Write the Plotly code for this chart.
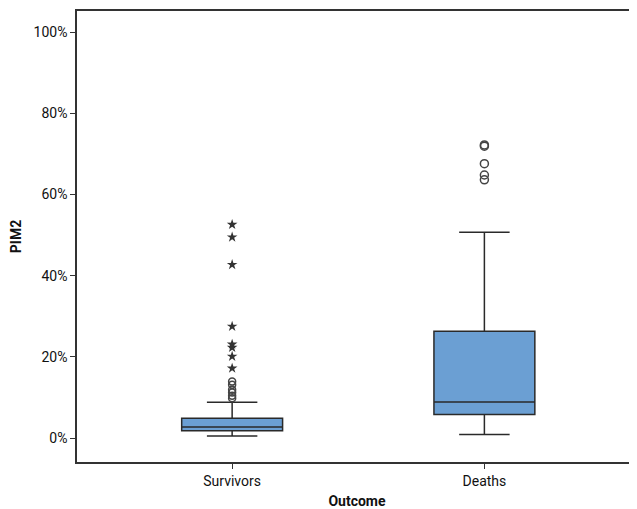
import plotly.graph_objects as go

categories = ["Survivors", "Deaths"]
q1 = [1.8, 5.8]
median = [2.7, 8.9]
q3 = [4.9, 26.3]
lower_whisker = [0.5, 0.9]
upper_whisker = [8.8, 50.7]

# outliers (circles) and extreme values (stars), in %
surv_circles = [9.8, 10.4, 11.2, 11.9, 13.1, 13.9]
surv_stars = [17.2, 20.1, 22.3, 23.1, 27.5, 42.7, 49.5, 52.6]
death_circles = [63.6, 64.8, 67.6, 71.9, 72.2]

tick_vals = [0, 20, 40, 60, 80, 100]
tick_text = ["0%", "20%", "40%", "60%", "80%", "100%"]

FONT = "Roboto, sans-serif"
fill = "#6b9fd3"

fig = go.Figure()
fig.add_trace(go.Box(
    x=categories, q1=q1, median=median, q3=q3,
    lowerfence=lower_whisker, upperfence=upper_whisker,
    fillcolor=fill, line=dict(color="#2a2a2a", width=1.5),
    width=0.4, whiskerwidth=0.5, boxpoints=False, showlegend=False,
))
fig.add_trace(go.Scatter(
    x=[categories[0]] * len(surv_circles), y=surv_circles, mode="markers",
    marker=dict(symbol="circle-open", size=7, color="#444", line=dict(width=1.5)),
    showlegend=False,
))
fig.add_trace(go.Scatter(
    x=[categories[0]] * len(surv_stars), y=surv_stars, mode="markers",
    marker=dict(symbol="star", size=8, color="#333"),
    showlegend=False,
))
fig.add_trace(go.Scatter(
    x=[categories[1]] * len(death_circles), y=death_circles, mode="markers",
    marker=dict(symbol="circle-open", size=8, color="#444", line=dict(width=1.5)),
    showlegend=False,
))

# The page body adds an 8px margin, so the figure is sized/margined to compensate.
fig.update_layout(
    width=629, height=501,
    margin=dict(l=69, r=0, t=3, b=47, autoexpand=False),
    plot_bgcolor="white", paper_bgcolor="white",
    font=dict(family=FONT, size=14, color="#111"),
    xaxis=dict(
        type="category", range=[-0.615, 1.605],
        showline=True, linecolor="#333", linewidth=1.5, mirror=True,
        ticks="outside", ticklen=5, tickcolor="#333",
        showgrid=False, zeroline=False, automargin=False,
        title=dict(text="<b>Outcome</b>", font=dict(family=FONT, size=14), standoff=12),
    ),
    yaxis=dict(
        range=[-5.9, 105.2],
        tickvals=tick_vals, ticktext=tick_text,
        showline=True, linecolor="#333", linewidth=1.5, mirror=True,
        ticks="outside", ticklen=5, tickcolor="#333",
        showgrid=False, zeroline=False, automargin=False,
        title=dict(text="<b>PIM2</b>", font=dict(family=FONT, size=14), standoff=12),
    ),
)

fig.write_html("out.html")
